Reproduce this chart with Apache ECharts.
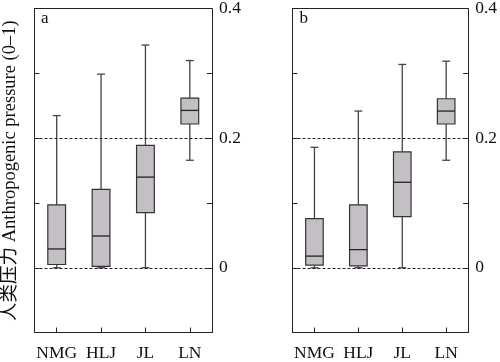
<!DOCTYPE html>
<html>
<head>
<meta charset="utf-8">
<script src="https://cdn.jsdelivr.net/npm/echarts@6/dist/echarts.min.js"></script>
<style>html,body{margin:0;padding:0;background:#fff}#c{width:500px;height:362px}</style>
</head>
<body>
<div id="c"></div>
<script>
// Categories (provinces)
const categories = ['NMG', 'HLJ', 'JL', 'LN'];
// Box statistics per category: [min, Q1, median, Q3, max]
const panelA = [
  [0.000, 0.005, 0.029, 0.097, 0.235],
  [0.000, 0.002, 0.049, 0.121, 0.299],
  [0.000, 0.085, 0.140, 0.189, 0.344],
  [0.166, 0.222, 0.243, 0.262, 0.320]
];
const panelB = [
  [0.000, 0.004, 0.018, 0.076, 0.186],
  [0.000, 0.003, 0.028, 0.097, 0.242],
  [0.000, 0.079, 0.132, 0.179, 0.314],
  [0.166, 0.222, 0.242, 0.261, 0.319]
];
const panelLabels = ['a', 'b'];
const refLines = [0, 0.2];
const yTickLabels = ['0', '0.2', '0.4'];
const yTitle = '人类压力 Anthropogenic pressure (0–1)';

const FONT = '"Liberation Serif", "Noto Sans CJK SC", serif';
const chart = echarts.init(document.getElementById('c'), null, {renderer: 'canvas'});

const grids = [
  {left: 34, top: 5, width: 178, height: 332},
  {left: 292.5, top: 5, width: 178, height: 332}
];

function fmt(v) {
  const r = Math.round(v * 10) / 10;
  const s = r === 0 ? '0' : String(r);
  return yTickLabels.indexOf(s) >= 0 ? s : '';
}

const xAxes = [], yAxes = [], series = [], graphics = [];
grids.forEach((g, i) => {
  xAxes.push({
    gridIndex: i, type: 'category', data: categories, boundaryGap: true,
    axisLine: {show: true, onZero: false, lineStyle: {color: '#222', width: 1}},
    axisTick: {show: true, inside: true, alignWithLabel: true, length: 5, lineStyle: {color: '#222'}},
    axisLabel: {interval: 0, color: '#111', fontFamily: FONT, fontSize: 17.5, margin: 12},
    splitLine: {show: false}
  });
  xAxes.push({
    gridIndex: i, type: 'category', data: categories, position: 'top',
    axisLine: {show: true, onZero: false, lineStyle: {color: '#222', width: 1}},
    axisTick: {show: false}, axisLabel: {show: false}, splitLine: {show: false}
  });
  // left axis (ticks only)
  yAxes.push({
    gridIndex: i, type: 'value', min: -0.1, max: 0.4, interval: 0.1, position: 'left',
    axisLine: {show: true, onZero: false, lineStyle: {color: '#222', width: 1}},
    axisTick: {show: true, inside: true, length: 5, lineStyle: {color: '#222'}},
    axisLabel: {show: false}, splitLine: {show: false},
    name: i === 0 ? yTitle : '', nameLocation: 'middle', nameRotate: 90, nameGap: 15,
    nameTextStyle: {fontFamily: FONT, fontSize: 18.5, color: '#111'}
  });
  // right axis (labels)
  yAxes.push({
    gridIndex: i, type: 'value', min: -0.1, max: 0.4, interval: 0.1, position: 'right',
    axisLine: {show: true, onZero: false, lineStyle: {color: '#222', width: 1}},
    axisTick: {show: true, inside: true, length: 5, lineStyle: {color: '#222'}},
    axisLabel: {show: true, formatter: fmt, color: '#111', fontFamily: FONT, fontSize: 17.5, margin: 7},
    splitLine: {show: false}
  });
  const stats = i === 0 ? panelA : panelB;
  series.push({
    type: 'custom',
    xAxisIndex: i * 2, yAxisIndex: i * 2,
    data: stats.map((s, k) => [k].concat(s)),
    encode: {x: 0, y: [1, 2, 3, 4, 5]},
    renderItem: function (params, api) {
      const x = api.value(0);
      const pMin = api.coord([x, api.value(1)]);
      const pQ1 = api.coord([x, api.value(2)]);
      const pMed = api.coord([x, api.value(3)]);
      const pQ3 = api.coord([x, api.value(4)]);
      const pMax = api.coord([x, api.value(5)]);
      const band = api.size([1, 0])[0];
      const hw = band * 0.2;
      const cw = band * 0.09;
      const cx = pMed[0];
      const wl = {stroke: '#444', lineWidth: 1.3};
      return {
        type: 'group',
        children: [
          {type: 'line', shape: {x1: cx, y1: pQ3[1], x2: cx, y2: pMax[1]}, style: wl},
          {type: 'line', shape: {x1: cx, y1: pMin[1], x2: cx, y2: pQ1[1]}, style: wl},
          {type: 'line', shape: {x1: cx - cw, y1: pMax[1], x2: cx + cw, y2: pMax[1]}, style: wl},
          {type: 'line', shape: {x1: cx - cw, y1: pMin[1], x2: cx + cw, y2: pMin[1]}, style: wl},
          {type: 'rect', shape: {x: cx - hw, y: pQ3[1], width: hw * 2, height: pQ1[1] - pQ3[1]},
            style: {fill: '#c4bfc4', stroke: '#333', lineWidth: 1.2}},
          {type: 'line', shape: {x1: cx - hw, y1: pMed[1], x2: cx + hw, y2: pMed[1]}, style: {stroke: '#222', lineWidth: 1.3}}
        ]
      };
    },
    markLine: {
      silent: true, symbol: 'none', label: {show: false},
      lineStyle: {color: '#222', type: [3, 2], width: 1},
      data: refLines.map(v => ({yAxis: v}))
    },
    z: 2
  });
  graphics.push({
    type: 'text', left: g.left + 7, top: 10,
    style: {text: panelLabels[i], font: '17px ' + FONT, fill: '#111'}
  });
});

chart.setOption({
  animation: false,
  backgroundColor: '#fff',
  grid: grids,
  xAxis: xAxes,
  yAxis: yAxes,
  series: series,
  graphic: graphics
});
</script>
</body>
</html>
